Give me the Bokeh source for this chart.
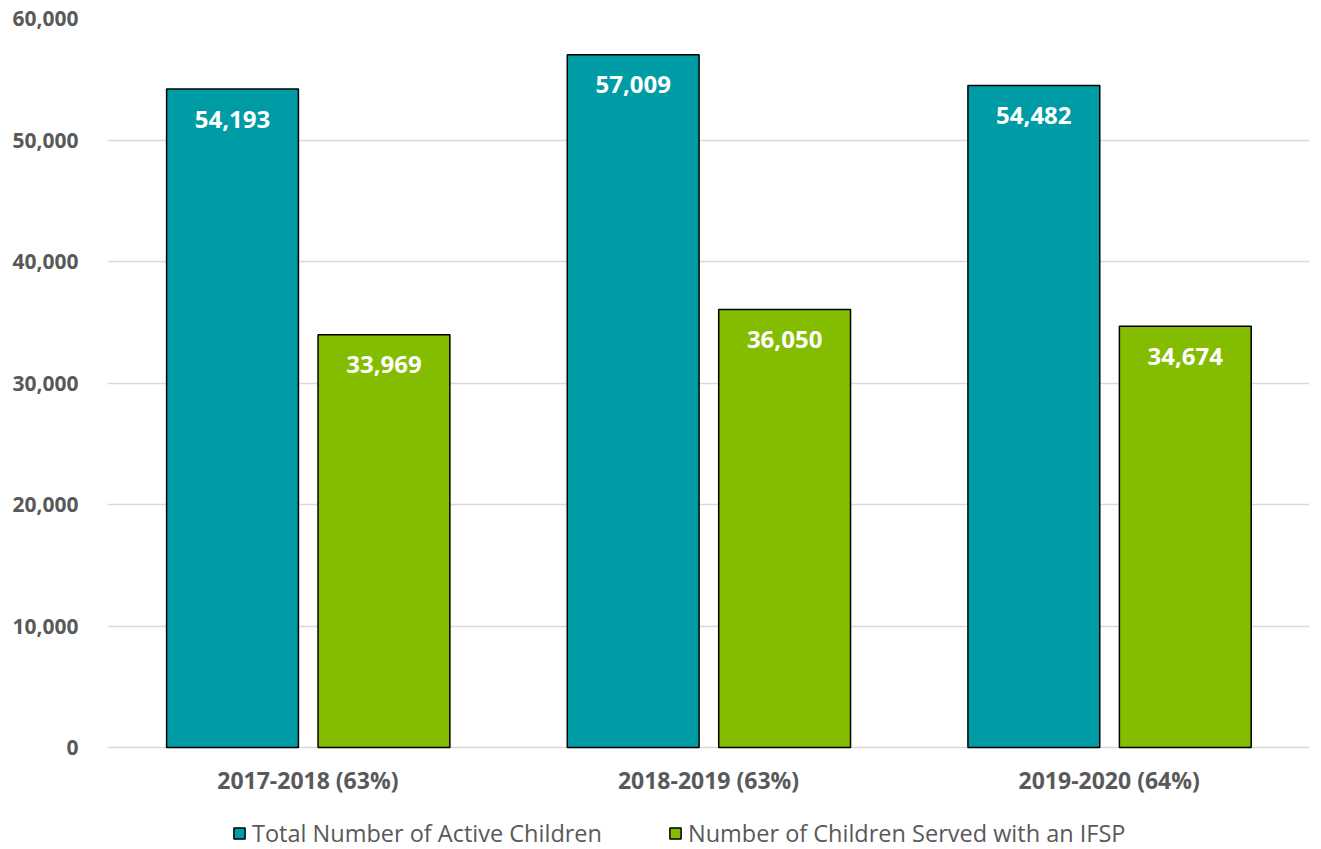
from bokeh.plotting import figure
from bokeh.models import ColumnDataSource, LabelSet, Legend, LegendItem, NumeralTickFormatter, FactorRange, Range1d
from bokeh.core.properties import value
from bokeh.transform import dodge
from bokeh.embed import file_html
from bokeh.resources import INLINE

years = ["2017-2018 (63%)", "2018-2019 (63%)", "2019-2020 (64%)"]
active = [54193, 57009, 54482]
ifsp = [33969, 36050, 34674]
series_names = ["Total Number of Active Children", "Number of Children Served with an IFSP"]
colors = ["#009CA6", "#84BD00"]
y_ticks = [0, 10000, 20000, 30000, 40000, 50000, 60000]

src = ColumnDataSource(dict(
    years=years, active=active, ifsp=ifsp,
    active_lbl=[f"{v:,}" for v in active],
    ifsp_lbl=[f"{v:,}" for v in ifsp],
))

# frame spans to the canvas bottom so the legend can sit inside it; y=0 stays at the bar baseline
top_px, base_px, canvas_h = 18, 747, 849
y_max = 60000
y_min = -(canvas_h - base_px) * y_max / (base_px - top_px)

p = figure(x_range=FactorRange(*years, range_padding=0), y_range=Range1d(y_min, y_max),
           width=1313, height=canvas_h, output_backend="svg", toolbar_location=None,
           min_border_left=107, min_border_right=4, min_border_top=top_px, min_border_bottom=0)
p.outline_line_color = None

r1 = p.vbar(x=dodge("years", -0.188, range=p.x_range), top="active", bottom=0, width=0.329, source=src,
            fill_color=colors[0], line_color="black", line_width=1.5)
r2 = p.vbar(x=dodge("years", 0.19, range=p.x_range), top="ifsp", bottom=0, width=0.329, source=src,
            fill_color=colors[1], line_color="black", line_width=1.5)

for col, lbl, off in [("active", "active_lbl", -0.188), ("ifsp", "ifsp_lbl", 0.19)]:
    p.add_layout(LabelSet(x=dodge("years", off, range=p.x_range), y=col, text=lbl, source=src,
                          text_align="center", text_baseline="middle", y_offset=-30,
                          text_color="white", text_font=value("Open Sans"), text_font_style="bold",
                          text_font_size="24px"))

p.yaxis.ticker = y_ticks
p.yaxis.formatter = NumeralTickFormatter(format="0,0")
p.xaxis.fixed_location = 0
for ax in (p.xaxis, p.yaxis):
    ax.axis_line_color = None
    ax.major_tick_line_color = None
    ax.minor_tick_line_color = None
    ax.major_label_text_font = "Open Sans"
    ax.major_label_text_font_style = "bold"
    ax.major_label_text_color = "#595959"
p.yaxis.major_label_text_font_size = "21px"
p.xaxis.major_label_text_font_size = "23px"
p.yaxis.major_label_standoff = 23
p.xaxis.major_label_standoff = 10
p.xgrid.grid_line_color = None
p.ygrid.grid_line_color = "#D9D9D9"
p.ygrid.grid_line_width = 1.5

legend = Legend(items=[LegendItem(label=series_names[0], renderers=[r1]),
                       LegendItem(label=series_names[1], renderers=[r2])],
                orientation="horizontal", location=(125, 0), margin=0,
                label_text_font="Open Sans", label_text_font_size="23.5px",
                label_text_color="#595959", glyph_width=14, glyph_height=14,
                spacing=66, padding=0, label_standoff=6, border_line_color=None,
                background_fill_alpha=0)
p.add_layout(legend, "center")

open("out.html", "w").write(file_html(p, INLINE))
